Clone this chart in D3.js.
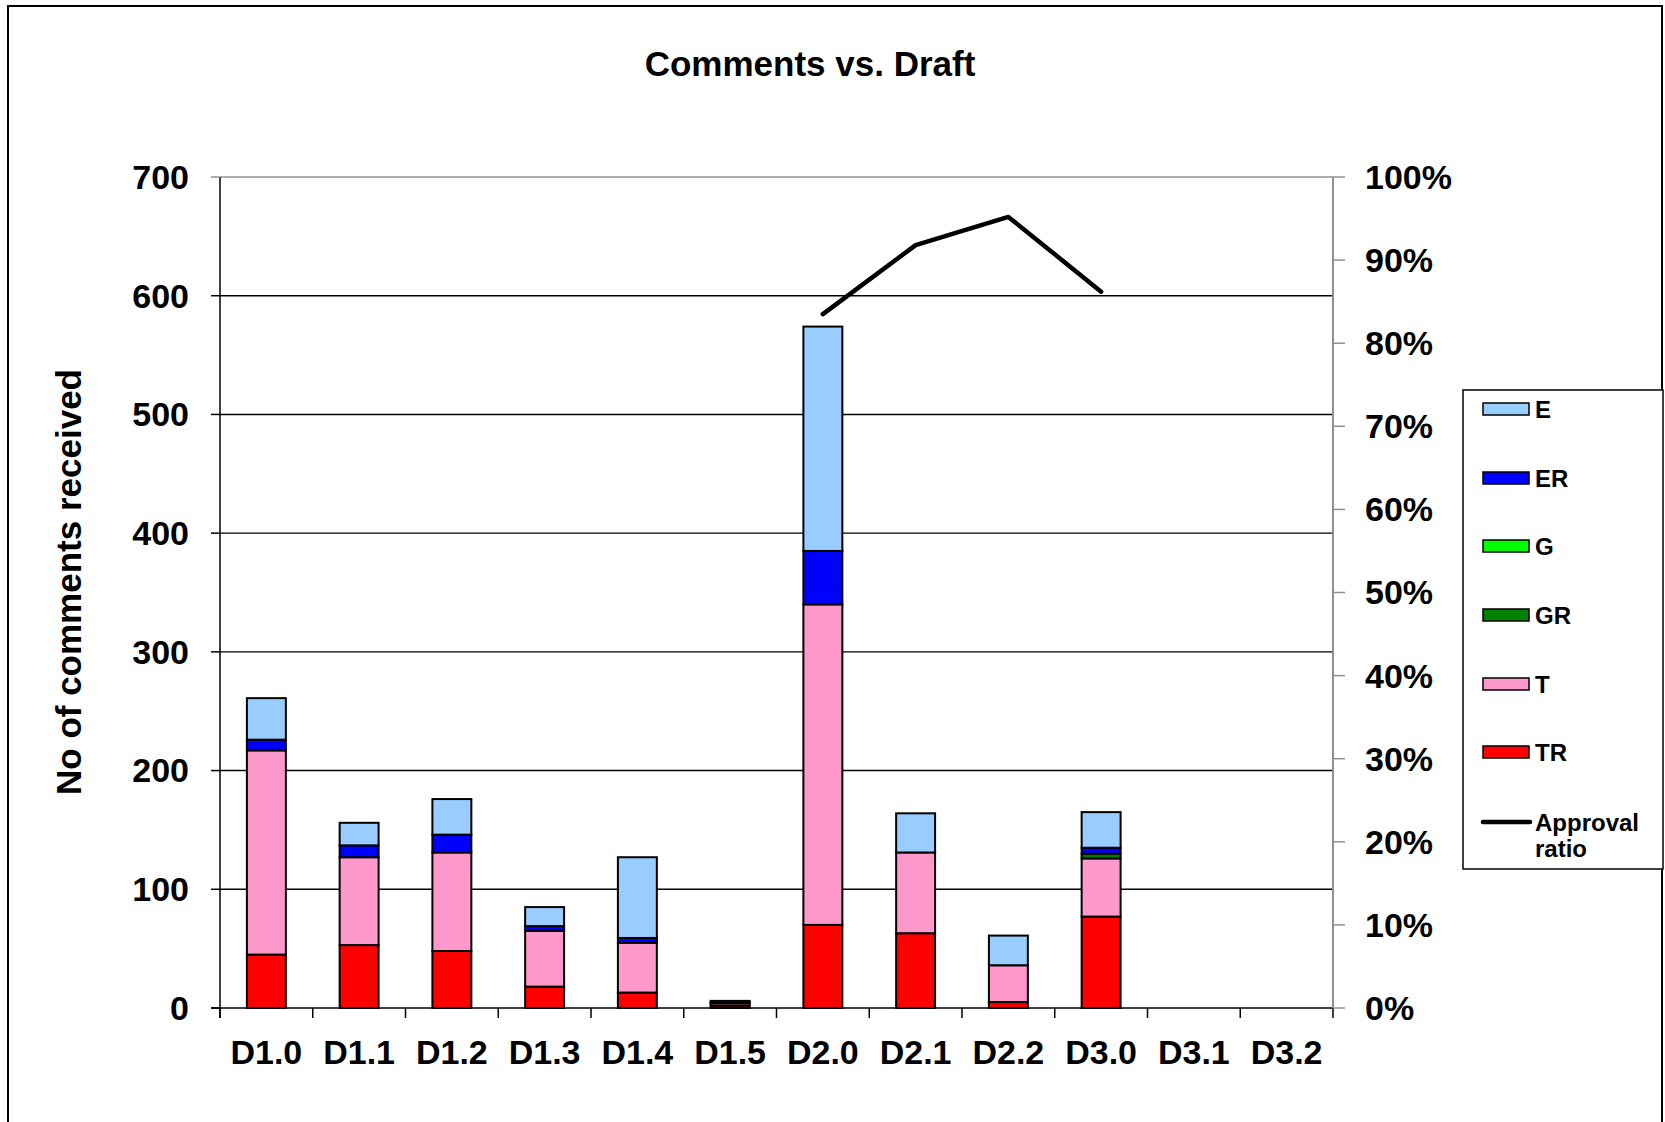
<!DOCTYPE html>
<html>
<head>
<meta charset="utf-8">
<script src="https://cdn.jsdelivr.net/npm/d3@7"></script>
<style>
  html, body { margin: 0; padding: 0; background: #fff; }
  svg { display: block; font-family: "Liberation Sans", Arial, sans-serif; font-weight: bold; }
</style>
</head>
<body>
<script>
// ---------- data ----------
const categories = ["D1.0","D1.1","D1.2","D1.3","D1.4","D1.5","D2.0","D2.1","D2.2","D3.0","D3.1","D3.2"];
const seriesTR = [45, 53, 48, 18, 13, 2, 70, 63, 5, 77, 0, 0];
const seriesT  = [172, 74, 83, 47, 42, 2, 270, 68, 31, 49, 0, 0];
const seriesGR = [0, 0, 0, 0, 0, 0, 0, 0, 0, 4, 0, 0];
const seriesG  = [0, 0, 0, 0, 0, 0, 0, 0, 0, 0, 0, 0];
const seriesER = [9, 10, 15, 4, 4, 1, 45, 0, 0, 5, 0, 0];
const seriesE  = [35, 19, 30, 16, 68, 1, 189, 33, 25, 30, 0, 0];
const approval = [null, null, null, null, null, null, 83.5, 91.8, 95.2, 86.2, null, null];
const leftTicks = [0, 100, 200, 300, 400, 500, 600, 700];
const rightTicks = [0, 10, 20, 30, 40, 50, 60, 70, 80, 90, 100];

const stackKeys = ["TR", "T", "GR", "G", "ER", "E"];
const legendKeys = ["E", "ER", "G", "GR", "T", "TR"];
const colors = { E: "#99CCFF", ER: "#0000FF", G: "#00FF00", GR: "#008000", T: "#FF99CC", TR: "#FF0000" };
const seriesByKey = { TR: seriesTR, T: seriesT, GR: seriesGR, G: seriesG, ER: seriesER, E: seriesE };

const rows = categories.map((c, i) => {
  const r = { cat: c };
  stackKeys.forEach(k => r[k] = seriesByKey[k][i]);
  return r;
});

// ---------- layout ----------
const W = 1665, H = 1122;
const plot = { left: 220, right: 1333, top: 177, bottom: 1008 };

const svg = d3.select("body").append("svg").attr("width", W).attr("height", H);
svg.append("rect").attr("x", 0).attr("y", 0).attr("width", W).attr("height", H).attr("fill", "#fff");

// outer chart border
svg.append("rect").attr("x", 8).attr("y", 6).attr("width", 1654).attr("height", 1130)
  .attr("fill", "none").attr("stroke", "#000").attr("stroke-width", 2);

const x = d3.scaleBand().domain(categories).range([plot.left, plot.right]).padding(0);
const y = d3.scaleLinear().domain([0, 700]).range([plot.bottom, plot.top]);
const y2 = d3.scaleLinear().domain([0, 100]).range([plot.bottom, plot.top]);

// gridlines
svg.append("g").selectAll("line").data(leftTicks.filter(t => t > 0 && t < 700)).join("line")
  .attr("x1", plot.left).attr("x2", plot.right)
  .attr("y1", d => y(d)).attr("y2", d => y(d))
  .attr("stroke", "#000").attr("stroke-width", 1.4);

// plot area top border (grey)
svg.append("line").attr("x1", plot.left).attr("x2", plot.right)
  .attr("y1", plot.top).attr("y2", plot.top).attr("stroke", "#909090").attr("stroke-width", 1.5);

// bars
const stack = d3.stack().keys(stackKeys);
const stacked = stack(rows);
const barW = x.bandwidth() * 0.42;
const gBars = svg.append("g");
stacked.forEach(layer => {
  gBars.append("g").selectAll("rect")
    .data(layer.filter(d => d[1] - d[0] > 0))
    .join("rect")
    .attr("x", d => x(d.data.cat) + (x.bandwidth() - barW) / 2)
    .attr("width", barW)
    .attr("y", d => y(d[1]))
    .attr("height", d => y(d[0]) - y(d[1]))
    .attr("fill", colors[layer.key])
    .attr("stroke", "#000").attr("stroke-width", 2);
});

// approval line
const line = d3.line()
  .defined(d => d.v != null)
  .x(d => x(d.cat) + x.bandwidth() / 2)
  .y(d => y2(d.v));
svg.append("path")
  .datum(categories.map((c, i) => ({ cat: c, v: approval[i] })))
  .attr("d", line).attr("fill", "none")
  .attr("stroke", "#000").attr("stroke-width", 4.5).attr("stroke-linejoin", "round").attr("stroke-linecap", "round");

// left axis
const gLeft = svg.append("g");
gLeft.append("line").attr("x1", plot.left).attr("x2", plot.left)
  .attr("y1", plot.top).attr("y2", plot.bottom + 10).attr("stroke", "#000").attr("stroke-width", 1.5);
gLeft.selectAll("line.tick").data(leftTicks).join("line").attr("class", "tick")
  .attr("x1", plot.left - 9).attr("x2", plot.left)
  .attr("y1", d => y(d)).attr("y2", d => y(d))
  .attr("stroke", d => d === 700 ? "#909090" : "#000").attr("stroke-width", 1.5);
gLeft.selectAll("text").data(leftTicks).join("text")
  .attr("x", 189).attr("y", d => y(d)).attr("dy", "0.35em")
  .attr("text-anchor", "end").attr("font-size", 34).attr("fill", "#000")
  .text(d => d);

// bottom axis
const gBottom = svg.append("g");
gBottom.append("line").attr("x1", plot.left - 9).attr("x2", plot.right)
  .attr("y1", plot.bottom).attr("y2", plot.bottom).attr("stroke", "#000").attr("stroke-width", 1.5);
const boundaries = categories.map(c => x(c)).concat([x(categories[categories.length - 1]) + x.bandwidth()]);
gBottom.selectAll("line.tick").data(boundaries).join("line").attr("class", "tick")
  .attr("x1", d => d).attr("x2", d => d)
  .attr("y1", plot.bottom).attr("y2", plot.bottom + 10)
  .attr("stroke", "#000").attr("stroke-width", 1.5);
gBottom.selectAll("text").data(categories).join("text")
  .attr("x", d => x(d) + x.bandwidth() / 2).attr("y", 1064)
  .attr("text-anchor", "middle").attr("font-size", 34).attr("fill", "#000")
  .text(d => d);

// right axis
const gRight = svg.append("g");
gRight.append("line").attr("x1", plot.right).attr("x2", plot.right)
  .attr("y1", plot.top).attr("y2", plot.bottom).attr("stroke", "#909090").attr("stroke-width", 2);
gRight.selectAll("line.tick").data(rightTicks).join("line").attr("class", "tick")
  .attr("x1", plot.right).attr("x2", plot.right + 12)
  .attr("y1", d => y2(d)).attr("y2", d => y2(d))
  .attr("stroke", "#909090").attr("stroke-width", 1.5);
gRight.selectAll("text").data(rightTicks).join("text")
  .attr("x", 1365).attr("y", d => y2(d)).attr("dy", "0.35em")
  .attr("text-anchor", "start").attr("font-size", 34).attr("fill", "#000")
  .text(d => d + "%");

// titles
svg.append("text").attr("x", 810).attr("y", 76).attr("text-anchor", "middle")
  .attr("font-size", 35).attr("fill", "#000").text("Comments vs. Draft");
svg.append("text").attr("transform", "translate(81,582) rotate(-90)").attr("text-anchor", "middle")
  .attr("font-size", 35).attr("fill", "#000").text("No of comments received");

// legend
const lg = svg.append("g");
lg.append("rect").attr("x", 1463).attr("y", 390).attr("width", 200).attr("height", 479)
  .attr("fill", "#fff").attr("stroke", "#000").attr("stroke-width", 1.5);
const legendY = [409, 478, 546, 615, 684, 752];
legendKeys.forEach((k, i) => {
  lg.append("rect").attr("x", 1483).attr("y", legendY[i] - 6).attr("width", 46).attr("height", 12)
    .attr("fill", colors[k]).attr("stroke", "#000").attr("stroke-width", 1.5);
  lg.append("text").attr("x", 1535).attr("y", legendY[i]).attr("dy", "0.36em")
    .attr("font-size", 24).attr("fill", "#000").text(k);
});
lg.append("line").attr("x1", 1483).attr("x2", 1530).attr("y1", 822).attr("y2", 822)
  .attr("stroke", "#000").attr("stroke-width", 4.5).attr("stroke-linecap", "round");
lg.append("text").attr("x", 1535).attr("y", 831).attr("font-size", 24).attr("fill", "#000").text("Approval");
lg.append("text").attr("x", 1535).attr("y", 857).attr("font-size", 24).attr("fill", "#000").text("ratio");
</script>
</body>
</html>
